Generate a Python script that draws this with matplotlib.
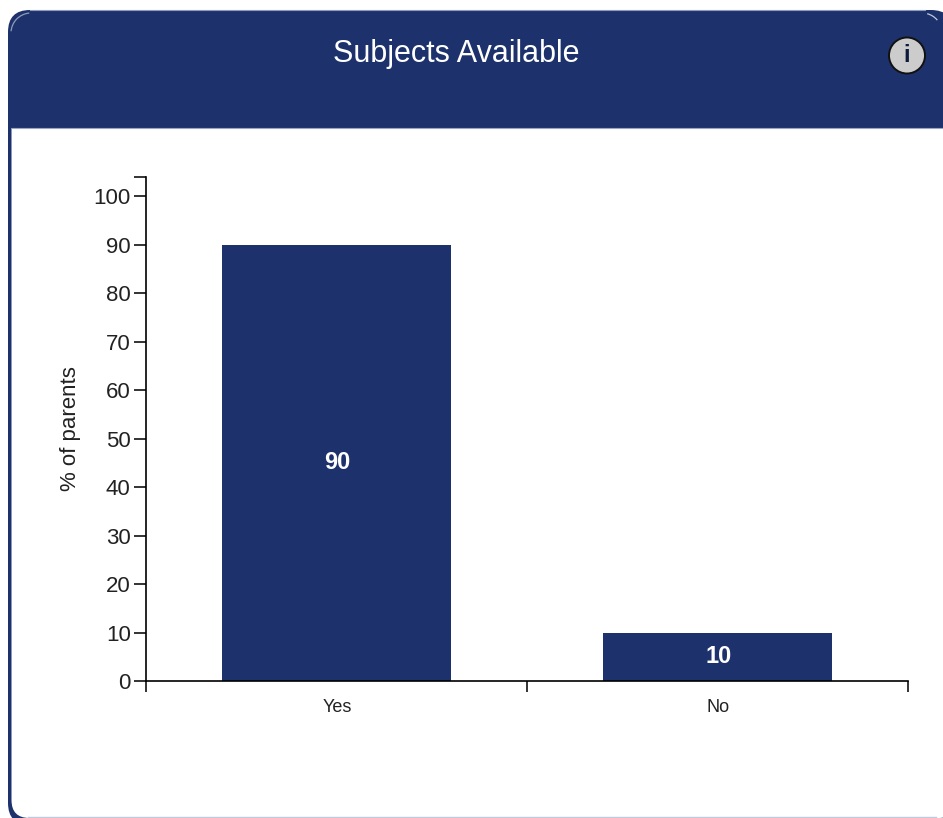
import matplotlib
matplotlib.use('Agg')
import matplotlib.pyplot as plt
from matplotlib.patches import Arc, Circle, FancyBboxPatch, Rectangle

categories = ['Yes', 'No']
percents = [90, 10]
y_ticks = [0, 10, 20, 30, 40, 50, 60, 70, 80, 90, 100]
title = 'Subjects Available'
y_label = '% of parents'

NAVY = '#1d326c'
W, H = 943, 818
Y_TOP = 104


def draw_card(fig):
    # pixel-space layer for the panel behind the chart
    bg = fig.add_axes([0, 0, 1, 1], zorder=0)
    bg.set_xlim(0, W)
    bg.set_ylim(H, 0)
    bg.axis('off')

    bg.add_patch(FancyBboxPatch((8, 10), 945, 815, boxstyle='round,pad=0,rounding_size=22',
                                fc=NAVY, ec='none'))
    bg.add_patch(FancyBboxPatch((11.5, 100), 945, 718, boxstyle='round,pad=0,rounding_size=18',
                                fc='white', ec='none'))
    bg.add_patch(Rectangle((8, 100), W, 28, fc=NAVY, ec='none'))

    # soft highlights round the header and along the bottom edge
    bg.plot([30, 925], [10, 10], color='#8f9bb8', lw=0.8)
    bg.plot([11.5, W], [128, 128], color='#9aa5c0', lw=0.8)
    bg.plot([28, 936], [817.3, 817.3], color='#c3c9dc', lw=1.0)
    bg.add_patch(Arc((31, 33), 40, 40, theta1=185, theta2=265, color='#8f9bb8', lw=0.9))
    bg.add_patch(Arc((922, 33), 40, 40, theta1=285, theta2=320, color='#c3c9dc', lw=0.9))

    bg.text(456.5, 54, title, color='white', fontsize=22, ha='center', va='center')

    # info button in the header
    bg.add_patch(Circle((907, 55.5), 18, fc='#cccccc', ec='#111111', lw=1.4))
    bg.text(907, 56, 'i', color='#0d1a3a', fontsize=17, fontweight='bold',
            ha='center', va='center')


def main():
    plt.rcParams['font.family'] = ['Liberation Sans', 'DejaVu Sans']
    fig = plt.figure(figsize=(W / 100, H / 100), dpi=100)
    draw_card(fig)

    ax = fig.add_axes([146 / W, (H - 681) / H, 762 / W, 504 / H], zorder=1)
    ax.patch.set_alpha(0)
    positions = [i + 0.5 for i in range(len(categories))]
    ax.bar(positions, percents, width=0.6, color=NAVY)
    ax.set_xlim(0, len(categories))
    ax.set_ylim(0, Y_TOP)

    for x, v in zip(positions, percents):
        ax.annotate(str(v), (x, v / 2), xytext=(1, 0), textcoords='offset pixels', color='white',
                    fontsize=17, fontweight='bold', ha='center', va='center')

    # band edges carry the ticks, names sit in the band centres
    ax.set_xticks(range(len(categories) + 1))
    ax.set_xticklabels([])
    ax.tick_params(axis='x', length=8, width=1.2, color='#111111')
    for x, name in zip(positions, categories):
        ax.annotate(name, (x, 0), xytext=(1, -26), textcoords='offset pixels',
                    fontsize=13, ha='center', va='center', color='#222222')

    ax.set_yticks(y_ticks + [Y_TOP])
    ax.set_yticklabels([str(t) for t in y_ticks] + [''])
    ax.tick_params(axis='y', length=9, width=1.2, color='#111111', labelsize=16,
                   pad=2, labelcolor='#222222')
    ax.set_ylabel(y_label, fontsize=16, color='#222222', labelpad=9)

    ax.spines['top'].set_visible(False)
    ax.spines['right'].set_visible(False)
    ax.spines['left'].set_linewidth(1.2)
    ax.spines['bottom'].set_linewidth(1.2)

    fig.savefig('out.png', dpi=100)


if __name__ == "__main__":
    main()
